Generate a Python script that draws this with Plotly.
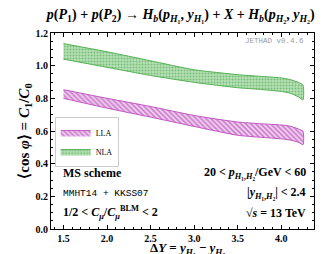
import plotly.graph_objects as go

# Data
dY = [1.5, 2.0, 2.5, 3.0, 3.5, 3.75, 4.0, 4.1, 4.2, 4.25]
nla_hi = [1.135, 1.085, 1.03, 0.975, 0.945, 0.935, 0.925, 0.915, 0.897, 0.88]
nla_lo = [1.04, 0.99, 0.94, 0.898, 0.865, 0.855, 0.842, 0.832, 0.808, 0.79]
lla_hi = [0.853, 0.80, 0.75, 0.695, 0.655, 0.645, 0.637, 0.630, 0.612, 0.598]
lla_lo = [0.800, 0.74, 0.685, 0.628, 0.574, 0.562, 0.552, 0.545, 0.530, 0.516]

FONT = "Liberation Serif"
fig = go.Figure()

def band(name, lo, hi, edge, pattern):
    xs = dY + dY[::-1]
    ys = hi + lo[::-1]
    fig.add_trace(go.Scatter(x=xs, y=ys, fill="toself", mode="lines",
                             line=dict(color=edge, width=1, shape="spline", smoothing=0.6),
                             fillcolor="rgba(0,0,0,0)", fillpattern=pattern, name=name))

band("LLA", lla_lo, lla_hi, "#c058c0",
     dict(shape="\\", fgcolor="#a52aa5", bgcolor="#f2d2f2", size=3.5, solidity=0.5))
band("NLA", nla_lo, nla_hi, "#55b055",
     dict(shape=".", fgcolor="#3d9a3d", bgcolor="#b4e0b4", size=3, solidity=0.35))

ann_font = dict(family=FONT, size=12, color="black")
anns = [
    dict(x=4.28, y=1.15, text="JETHAD v0.4.6", xanchor="right", font=dict(family="Liberation Mono", size=7.5, color="#999999")),
    dict(x=1.47, y=0.343, text="<b>MS scheme</b>", xanchor="left", font=ann_font),
    dict(x=1.47, y=0.22, text="MMHT14 + KKSS07", xanchor="left", font=dict(family="Liberation Mono", size=9.5, color="black")),
    dict(x=1.47, y=0.098, text="<b>1/2 &lt; <i>C<sub>μ</sub></i>/<i>C</i><sub><i>μ</i></sub><sup>BLM</sup> &lt; 2</b>", xanchor="left", font=ann_font),
    dict(x=4.31, y=0.343, text="<b>20 &lt; <i>p</i><sub><i>H</i>₁,<i>H</i>₂</sub>/GeV &lt; 60</b>", xanchor="right", font=ann_font),
    dict(x=4.31, y=0.22, text="<b>|<i>y</i><sub><i>H</i>₁,<i>H</i>₂</sub>| &lt; 2.4</b>", xanchor="right", font=ann_font),
    dict(x=4.31, y=0.098, text="<b>√<i>s</i> = 13 TeV</b>", xanchor="right", font=ann_font),
]
for a in anns:
    a.update(xref="x", yref="y", showarrow=False, yanchor="middle")
anns.append(dict(x=0.52, y=-0.098, xref="paper", yref="paper", showarrow=False,
                 xanchor="center", yanchor="middle",
                 text="<b>Δ<i>Y</i> = <i>y</i><sub><i>H</i>₁</sub> − <i>y</i><sub><i>H</i>₂</sub></b>",
                 font=dict(family=FONT, size=13, color="black")))

axis_common = dict(ticks="inside", showline=True, linecolor="black", linewidth=1, mirror="allticks",
                   showgrid=False, zeroline=False, ticklen=4, tickcolor="black", automargin=False,
                   tickfont=dict(family=FONT, size=10, color="black"))

fig.update_layout(
    width=326, height=254,
    margin=dict(l=43, r=20, t=25, b=33, autoexpand=False),
    paper_bgcolor="white", plot_bgcolor="white",
    title=dict(text="<b><i>p</i>(<i>P</i><sub>1</sub>) + <i>p</i>(<i>P</i><sub>2</sub>) → <i>H<sub>b</sub></i>(<i>p</i><sub><i>H</i>₁</sub>, <i>y</i><sub><i>H</i>₁</sub>) + <i>X</i> + <i>H<sub>b</sub></i>(<i>p</i><sub><i>H</i>₂</sub>, <i>y</i><sub><i>H</i>₂</sub>)</b>",
               x=0.53, xanchor="center", y=0.995, yanchor="top",
               font=dict(family=FONT, size=14, color="black")),
    xaxis=dict(range=[1.357, 4.376], tickvals=[1.5, 2.0, 2.5, 3.0, 3.5, 4.0],
               ticktext=["<b>1.5</b>", "<b>2.0</b>", "<b>2.5</b>", "<b>3.0</b>", "<b>3.5</b>", "<b>4.0</b>"],
               minor=dict(dtick=0.1, ticks="inside", ticklen=2, tickcolor="black"),
               **axis_common),
    yaxis=dict(range=[0.0, 1.2], tickvals=[0.0, 0.2, 0.4, 0.6, 0.8, 1.0, 1.2],
               ticktext=["<b>0.0</b>", "<b>0.2</b>", "<b>0.4</b>", "<b>0.6</b>", "<b>0.8</b>", "<b>1.0</b>", "<b>1.2</b>"],
               minor=dict(dtick=0.05, ticks="inside", ticklen=2, tickcolor="black"),
               title=dict(text="<b>⟨cos <i>φ</i>⟩ = <i>C</i><sub>1</sub>/<i>C</i><sub>0</sub></b>",
                          font=dict(family=FONT, size=15, color="black"), standoff=2),
               **axis_common),
    legend=dict(x=0.014, y=0.571, xanchor="left", yanchor="top", bgcolor="white",
                bordercolor="#cccccc", borderwidth=1, font=dict(family=FONT, size=8, color="black"),
                itemwidth=30, tracegroupgap=0),
    showlegend=True,
    annotations=anns,
    shapes=[dict(type="line", xref="x", yref="y", x0=1.472, x1=1.675, y0=0.385, y1=0.385,
                 line=dict(color="black", width=1))],
)

fig.write_html("out.html")
